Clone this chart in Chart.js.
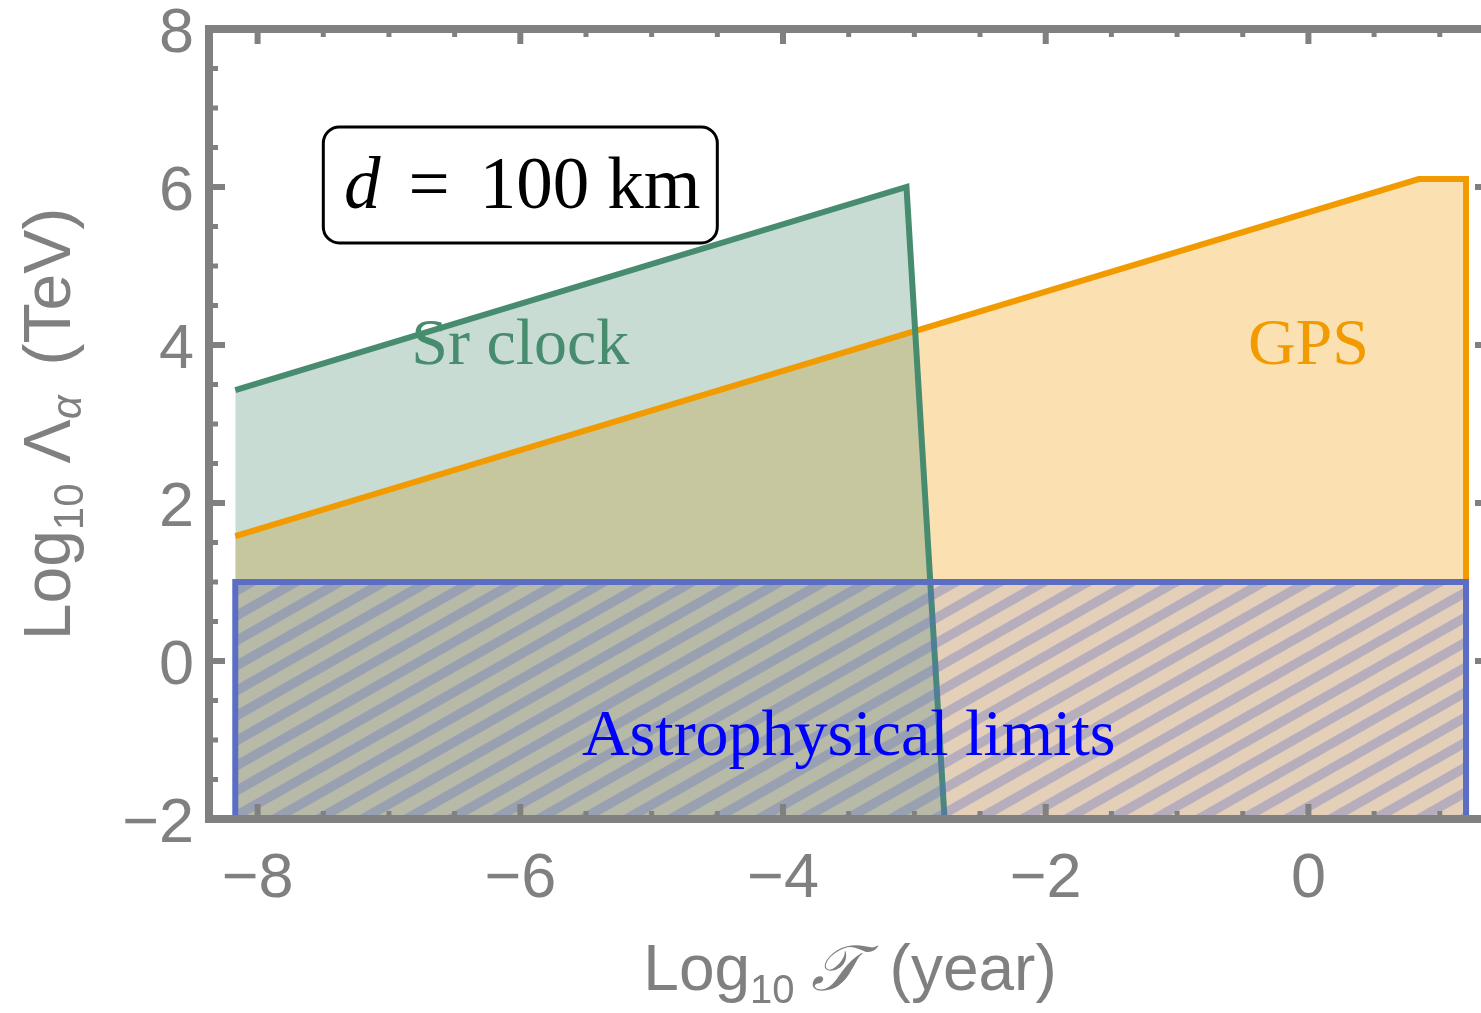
<!DOCTYPE html>
<html>
<head>
<meta charset="utf-8">
<script src="https://cdn.jsdelivr.net/npm/chart.js@4/dist/chart.umd.min.js"></script>
<style>
  html, body { margin: 0; padding: 0; background: #fff; overflow: hidden; }
  #wrap { width: 1481px; height: 1013px; overflow: hidden; position: relative; }
  canvas { display: block; }
</style>
</head>
<body>
<div id="wrap"><canvas id="c" width="1500" height="1013"></canvas></div>
<script>
// Axis ranges and labelled ticks
const xRange = [-8.37, 1.39];
const yRange = [-2, 8];
const xMajor = [-8, -6, -4, -2, 0];
const yMajor = [-2, 0, 2, 4, 6, 8];

// Sr clock exclusion region (log10 T in years, log10 Lambda in TeV)
const srClockT = [-8.17, -3.06, -2.77];
const srClockL = [3.43, 6.0, -2.0];

// GPS exclusion region
const gpsT = [-8.17, 0.84, 1.2, 1.2];
const gpsL = [1.58, 6.1, 6.1, -2.0];

// Astrophysical limits box
const astroT = [-8.17, -8.17, 1.2, 1.2];
const astroL = [-2.0, 1.0, 1.0, -2.0];

// Region labels: text, position (T, Lambda) and colour
const labelText = ['Sr clock', 'GPS', 'Astrophysical limits'];
const labelT = [-6, 0, -3.5];
const labelL = [4, 4, -0.95];
const labelColor = ['rgb(72,140,112)', 'rgb(242,155,0)', 'rgb(0,0,255)'];

// Inset box with the baseline
const insetT = -6, insetL = 6;

const GRAY = 'rgb(128,128,128)';
const SANS = "'Liberation Sans', Arial, sans-serif";
const SERIF = "'Liberation Serif', 'Times New Roman', serif";

const pts = (xs, ys) => xs.map((x, i) => ({ x, y: ys[i] }));
const tickText = v => (v < 0 ? '\u2212' + Math.abs(v) : String(v));

function hatchPattern(ctx) {
  const W = 44, H = 25;
  const c = document.createElement('canvas');
  c.width = W; c.height = H;
  const g = c.getContext('2d');
  g.fillStyle = 'rgba(92,108,215,0.15)';
  g.fillRect(0, 0, W, H);
  g.strokeStyle = 'rgba(92,108,200,0.33)';
  g.lineWidth = 9.5;
  for (let k = -1; k <= 1; k++) {
    g.beginPath();
    g.moveTo(-W + k * W, 2 * H);
    g.lineTo(2 * W + k * W, -H);
    g.stroke();
  }
  return ctx.createPattern(c, 'repeat');
}

// Fills the astrophysical box with hatching just before its outline is stroked
const hatchPlugin = {
  id: 'hatch',
  beforeDatasetDraw(chart, args) {
    const ds = chart.data.datasets[args.index];
    if (!ds.hatched) return;
    const ctx = chart.ctx, a = chart.chartArea;
    const els = args.meta.data;
    ctx.save();
    ctx.beginPath();
    ctx.rect(a.left, a.top, a.right - a.left, a.bottom - a.top);
    ctx.clip();
    ctx.beginPath();
    els.forEach((p, i) => (i ? ctx.lineTo(p.x, p.y) : ctx.moveTo(p.x, p.y)));
    ctx.closePath();
    ctx.fillStyle = hatchPattern(ctx);
    ctx.fill();
    ctx.restore();
  }
};

function drawRuns(ctx, runs, cx, baseY) {
  let total = 0;
  runs.forEach(r => { ctx.font = r.font; r.w = ctx.measureText(r.t).width + (r.gap || 0); total += r.w; });
  let x = cx - total / 2;
  runs.forEach(r => {
    ctx.font = r.font;
    ctx.fillText(r.t, x, baseY + (r.dy || 0));
    x += r.w;
  });
}

// Frame, ticks, tick labels, axis titles and annotations
const framePlugin = {
  id: 'frame',
  afterDraw(chart) {
    const ctx = chart.ctx, a = chart.chartArea;
    const xs = chart.scales.x, ys = chart.scales.y;
    ctx.save();
    ctx.strokeStyle = GRAY;
    ctx.fillStyle = GRAY;
    ctx.lineWidth = 8;
    ctx.lineCap = 'butt';
    ctx.strokeRect(a.left, a.top, a.right - a.left, a.bottom - a.top);

    const tick = (x0, y0, x1, y1, w) => {
      ctx.lineWidth = w;
      ctx.beginPath(); ctx.moveTo(x0, y0); ctx.lineTo(x1, y1); ctx.stroke();
    };
    // ticks every 0.5, majors every 2, on all four sides
    for (let v = Math.ceil(xRange[0] * 2) / 2; v <= xRange[1]; v += 0.5) {
      const px = xs.getPixelForValue(v);
      const major = xMajor.includes(v);
      const len = major ? 15 : 8, w = major ? 6 : 5;
      tick(px, a.bottom, px, a.bottom - len, w);
      tick(px, a.top, px, a.top + len, w);
    }
    for (let v = Math.ceil(yRange[0] * 2) / 2; v <= yRange[1]; v += 0.5) {
      const py = ys.getPixelForValue(v);
      const major = yMajor.includes(v);
      const len = major ? 16 : 9, w = major ? 6 : 5;
      tick(a.left, py, a.left + len, py, w);
      tick(a.right, py, a.right - len, py, w);
    }

    // tick labels
    ctx.font = '63px ' + SANS;
    ctx.textBaseline = 'alphabetic';
    ctx.textAlign = 'center';
    xMajor.forEach(v => ctx.fillText(tickText(v), xs.getPixelForValue(v), a.bottom + 78));
    ctx.textAlign = 'right';
    yMajor.forEach(v => ctx.fillText(tickText(v), a.left - 15, ys.getPixelForValue(v) + 22.5));

    // axis titles
    ctx.textAlign = 'left';
    const big = '64px ' + SANS, sub = '40px ' + SANS;
    drawRuns(ctx, [
      { t: 'Log', font: big },
      { t: '10', font: sub, dy: 13, gap: 16 },
      { t: '\u{1D4AF}', font: 'italic 64px ' + SERIF, gap: 30 },
      { t: '(year)', font: big }
    ], (a.left + a.right) / 2, 990);

    const bigY = '66px ' + SANS, subY = '42px ' + SANS;
    ctx.save();
    ctx.translate(70, (a.top + a.bottom) / 2);
    ctx.rotate(-Math.PI / 2);
    drawRuns(ctx, [
      { t: 'Log', font: bigY },
      { t: '10', font: subY, dy: 13, gap: 20 },
      { t: '\u039B', font: bigY },
      { t: '\u03B1', font: 'italic 42px ' + SANS, dy: 11, gap: 30 },
      { t: '(TeV)', font: bigY }
    ], 0, 0);
    ctx.restore();

    // region labels
    ctx.textAlign = 'center';
    labelText.forEach((t, i) => {
      ctx.fillStyle = labelColor[i];
      ctx.font = '66px ' + SERIF;
      ctx.fillText(t, xs.getPixelForValue(labelT[i]), ys.getPixelForValue(labelL[i]) + 19);
    });

    // inset box "d = 100 km"
    const bx = xs.getPixelForValue(insetT), by = ys.getPixelForValue(insetL);
    const bw = 394, bh = 116, r = 16;
    ctx.fillStyle = '#fff';
    ctx.strokeStyle = '#000';
    ctx.lineWidth = 3;
    ctx.beginPath();
    ctx.roundRect(bx - bw / 2, by - bh / 2 - 2, bw, bh, r);
    ctx.fill();
    ctx.stroke();
    ctx.fillStyle = '#000';
    ctx.textAlign = 'left';
    drawRuns(ctx, [
      { t: 'd', font: 'italic 73px ' + SERIF, gap: 28 },
      { t: '=', font: '73px ' + SERIF, gap: 30 },
      { t: '100', font: '73px ' + SERIF, gap: 18 },
      { t: 'km', font: '73px ' + SERIF }
    ], bx + 2, by + 21);
    ctx.restore();
  }
};

new Chart(document.getElementById('c'), {
  type: 'line',
  data: {
    datasets: [
      {
        label: 'Astrophysical limits',
        data: pts(astroT, astroL),
        borderColor: 'rgb(92,110,196)',
        borderWidth: 6,
        fill: false,
        hatched: true,
        pointRadius: 0,
        borderJoinStyle: 'miter',
        order: 0
      },
      {
        label: 'Sr clock',
        data: pts(srClockT, srClockL),
        borderColor: 'rgb(72,140,112)',
        backgroundColor: 'rgba(72,140,112,0.3)',
        borderWidth: 6,
        fill: { value: -2 },
        pointRadius: 0,
        order: 1
      },
      {
        label: 'GPS',
        data: pts(gpsT, gpsL),
        borderColor: 'rgb(242,155,0)',
        backgroundColor: 'rgba(242,155,0,0.3)',
        borderWidth: 6,
        fill: { value: -2 },
        pointRadius: 0,
        order: 2
      }
    ]
  },
  options: {
    responsive: false,
    animation: false,
    devicePixelRatio: 1,
    layout: { padding: { left: 209, top: 29, right: 9, bottom: 194 } },
    scales: {
      x: { type: 'linear', min: xRange[0], max: xRange[1], display: false },
      y: { type: 'linear', min: yRange[0], max: yRange[1], display: false }
    },
    elements: { line: { tension: 0 } },
    plugins: {
      legend: { display: false },
      tooltip: { enabled: false },
      filler: { drawTime: 'beforeDatasetsDraw' }
    }
  },
  plugins: [hatchPlugin, framePlugin]
});
</script>
</body>
</html>
